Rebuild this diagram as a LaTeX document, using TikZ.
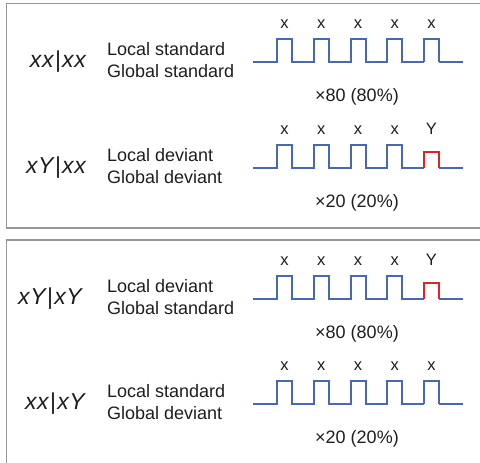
\documentclass[tikz,border=0pt]{standalone}
\usepackage{fontspec}
\setmainfont{Liberation Sans}
\definecolor{wblue}{RGB}{72,104,178}
\definecolor{wred}{RGB}{222,36,40}
\definecolor{framegray}{RGB}{150,150,150}
\definecolor{txt}{RGB}{30,30,30}
\newcommand{\sx}{\kern0.6pt}
\newcommand{\cond}[4]{{\itshape #1\sx #2}\kern1.5pt|\kern1.2pt{\itshape #3\sx #4}}
\begin{document}
\begin{tikzpicture}[x=1pt,y=-1pt,
  panel/.style={draw=framegray, line width=1.6pt},
  wave/.style={draw=wblue, line width=2pt},
  redwave/.style={draw=wred, line width=2pt},
  ticklab/.style={font=\fontsize{16.5}{16.5}\selectfont, text=txt, anchor=base, inner sep=0pt},
  desc/.style={font=\fontsize{18}{18}\selectfont, text=txt, anchor=base west, inner sep=0pt},
  cnt/.style={font=\fontsize{18}{18}\selectfont, text=txt, anchor=base, inner sep=0pt},
  condlab/.style={font=\fontsize{23}{23}\selectfont, text=txt, anchor=base east, inner sep=0pt}]
\useasboundingbox (0,0) rectangle (480,463);
% panels
\draw[panel] (495,3.5) -- (6.5,3.5) -- (6.5,228) -- (495,228);
\draw[panel] (495,240) -- (6.5,240) -- (6.5,475);
\foreach \L/\dev/\cnum/\la/\lb/\lc/\ld/\lend/\ltxt/\gtxt [count=\r] in
  {62/0/\texttimes 80 (80\%)/x/x/x/x/86/Local standard/Global standard,
   168/1/\texttimes 20 (20\%)/x/Y/x/x/86/Local deviant/Global deviant,
   299/1/\texttimes 80 (80\%)/x/Y/x/Y/82/Local deviant/Global standard,
   404/0/\texttimes 20 (20\%)/x/x/x/Y/85/Local standard/Global deviant}{
  \pgfmathsetmacro{\H}{\L-23}
  \pgfmathsetmacro{\Hr}{\L-16}
  % ticks
  \foreach \i in {0,...,4}{
    \pgfmathsetmacro{\xc}{284.5+36.75*\i}
    \ifnum\i=4
      \ifnum\dev=1
        \node[ticklab] (t\r-\i) at (\xc,\L-33.5) {Y};
      \else
        \node[ticklab] (t\r-\i) at (\xc,\L-33.5) {x};
      \fi
    \else
      \node[ticklab] (t\r-\i) at (\xc,\L-33.5) {x};
    \fi
  }
  % waveform
  \draw[wave] (253,\L) -- (277,\L) -- (277,\H) -- (292,\H) -- (292,\L)
     -- (313.75,\L) -- (313.75,\H) -- (328.75,\H) -- (328.75,\L)
     -- (350.5,\L) -- (350.5,\H) -- (365.5,\H) -- (365.5,\L)
     -- (387.25,\L) -- (387.25,\H) -- (402.25,\H) -- (402.25,\L)
     -- (424,\L);
  \ifnum\dev=1
    \draw[redwave] (424,\L) -- (424,\Hr) -- (439,\Hr) -- (439,\L);
  \else
    \draw[wave] (424,\L) -- (424,\H) -- (439,\H) -- (439,\L);
  \fi
  \draw[wave] (439,\L) -- (463,\L);
  % texts
  \node[condlab] (c\r) at (\lend,\L+5.5) {\cond{\la}{\lb}{\lc}{\ld}};
  \node[desc] (l\r) at (107,\L-6.5) {\ltxt};
  \node[desc] (g\r) at (107,\L+15.5) {\gtxt};
  \node[cnt] (n\r) at (357,\L+39.5) {\cnum};
}
\end{tikzpicture}
\end{document}
